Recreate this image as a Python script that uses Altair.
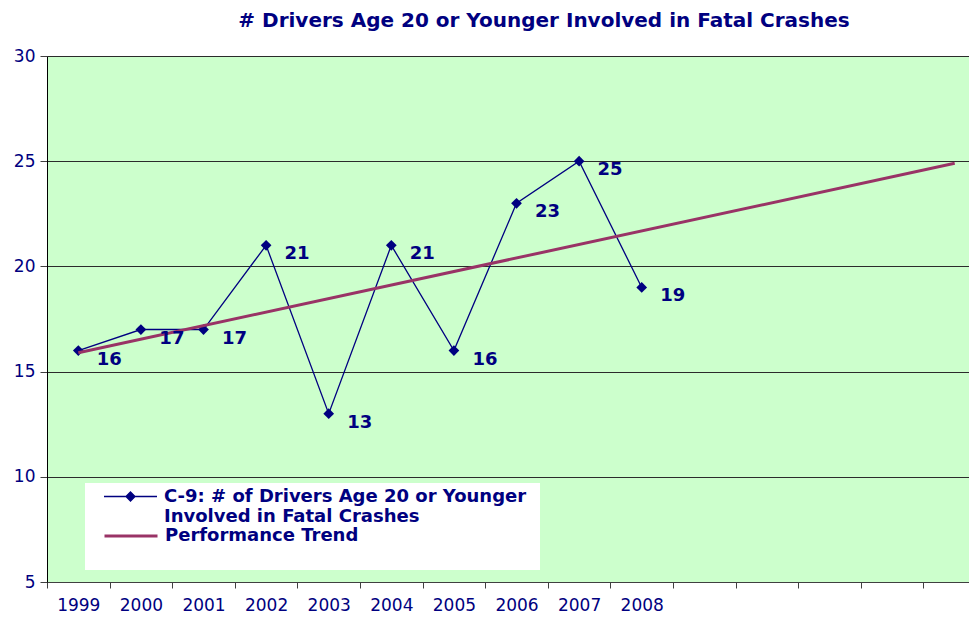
import altair as alt
import pandas as pd

# ---- data ----
years = [1999, 2000, 2001, 2002, 2003, 2004, 2005, 2006, 2007, 2008]
drivers = [16, 17, 17, 21, 13, 21, 16, 23, 25, 19]
trend_years = [1999, 2013]
trend_values = [15.9, 24.9]
axis_years = list(range(1999, 2014))
y_ticks = [5, 10, 15, 20, 25, 30]
series_name = "C-9: # of Drivers Age 20 or Younger|Involved in Fatal Crashes"
trend_name = "Performance Trend"
title_text = "# Drivers Age 20 or Younger Involved in Fatal Crashes"

NAVY = "#000080"
TREND = "#993366"
FONT = "DejaVu Sans"

df = pd.DataFrame({"year": years, "value": drivers, "series": [series_name] * len(years)})
tdf = pd.DataFrame({"year": trend_years, "value": trend_values, "trend": [trend_name] * len(trend_years)})
box_df = pd.DataFrame({"k": [0]})

x_ticks = [y - 0.5 for y in axis_years]

xscale = alt.Scale(domain=[1998.5, 2013.228], nice=False, zero=False)
yscale = alt.Scale(domain=[5, 30], nice=False, zero=False)

xaxis = alt.Axis(
    values=x_ticks,
    labelExpr="datum.value + 0.5 <= 2008 ? format(datum.value + 0.5, 'd') : ''",
    labelOffset=31.3,
    tickSize=6,
    tickColor="#404040",
    domainColor="#404040",
    labelColor=NAVY,
    labelFont=FONT,
    labelFontSize=17,
    labelPadding=9,
    grid=False,
    title=None,
    labelOverlap=False,
    labelFlush=False,
)
yaxis = alt.Axis(
    values=y_ticks,
    grid=True,
    gridColor="#2b2b2b",
    gridWidth=1,
    tickSize=7,
    tickColor="#404040",
    domainColor="black",
    labelColor=NAVY,
    labelFont=FONT,
    labelFontSize=17,
    labelPadding=5,
    title=None,
)

X = alt.X("year:Q", scale=xscale, axis=xaxis)
Y = alt.Y("value:Q", scale=yscale, axis=yaxis)

color_enc = alt.Color(
    "series:N",
    scale=alt.Scale(domain=[series_name], range=[NAVY]),
    legend=alt.Legend(
        orient="none",
        legendX=56,
        legendY=413,
        title=None,
        symbolType="M-1,0H1M0,-0.17L0.17,0L0,0.17L-0.17,0Z",
        symbolSize=2809,
        symbolStrokeWidth=1.3,
        symbolFillColor=NAVY,
        symbolStrokeColor=NAVY,
        labelFont=FONT,
        labelFontSize=18,
        labelFontWeight="bold",
        labelColor=NAVY,
        labelOffset=6,
        labelLimit=700,
        labelExpr="split(datum.label, '|')",
        padding=0,
    ),
)

stroke_enc = alt.Stroke(
    "trend:N",
    scale=alt.Scale(domain=[trend_name], range=[TREND]),
    legend=alt.Legend(
        orient="none",
        legendX=56,
        legendY=452,
        title=None,
        symbolType="stroke",
        symbolSize=2809,
        symbolStrokeWidth=3,
        symbolStrokeColor=TREND,
        labelFont=FONT,
        labelFontSize=18,
        labelFontWeight="bold",
        labelColor=NAVY,
        labelOffset=6,
        labelLimit=700,
        padding=0,
    ),
)

box = alt.Chart(box_df).mark_rect(fill="white").encode(
    x=alt.value(38), x2=alt.value(493), y=alt.value(427), y2=alt.value(514)
)

line = alt.Chart(df).mark_line(strokeWidth=1.3).encode(x=X, y=Y, color=color_enc)
points = alt.Chart(df).mark_point(shape="diamond", filled=True, size=115, opacity=1).encode(
    x=X, y=Y, color=color_enc
)
trend = alt.Chart(tdf).mark_line(strokeWidth=3).encode(x=X, y=Y, stroke=stroke_enc)
labels = alt.Chart(df).mark_text(
    dx=31, dy=9, font=FONT, fontSize=18, fontWeight="bold", color=NAVY
).encode(x=X, y=Y, text="value:Q")

chart = (
    alt.layer(box, line, points, trend, labels)
    .properties(
        width=922,
        height=526,
        padding={"left": 39, "top": 48, "right": 0, "bottom": 35},
        autosize=alt.AutoSizeParams(type="none"),
        background="white",
        title=alt.TitleParams(
            text=title_text,
            font=FONT,
            fontSize=20,
            fontWeight="bold",
            color=NAVY,
            anchor="middle",
            dx=36,
            offset=16,
        ),
    )
    .configure_view(fill="#CCFFCC", stroke="transparent")
)

chart.save("out.html", embed_options={"renderer": "svg", "actions": False})
